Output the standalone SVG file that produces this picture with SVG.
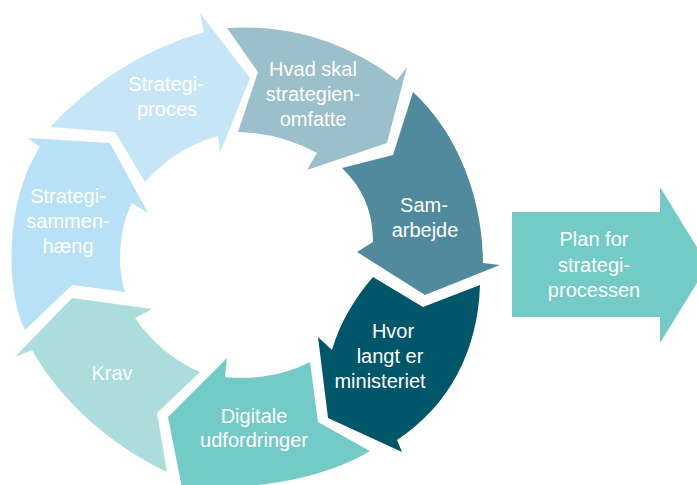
<svg xmlns="http://www.w3.org/2000/svg" width="697" height="485" viewBox="0 0 697 485">
<style>
text{font-family:"Liberation Sans",Arial,sans-serif;font-size:20px;fill:#ffffff;text-anchor:middle}
</style>
<rect width="697" height="485" fill="#ffffff"/>
<g id="connectors"></g>
<g id="strategiproces">
<path d="M204,32 L200,13 L250,78 L220,153 L218,136 Q175,148 145,182 L115,132 L50,127 Q115,58 204,32 Z" fill="#c6e6f7"/>
<text x="166" y="91">Strategi-</text>
<text x="167" y="116">proces</text>
</g>
<g id="hvad-skal">
<path d="M227,28 Q320,22 397,80 L407,67 L387,143 L307,170 L317,153 Q280,133 238,132 L258,72 Z" fill="#9bbfcb"/>
<text x="313" y="76">Hvad skal</text>
<text x="313" y="101">strategien-</text>
<text x="313" y="126">omfatte</text>
</g>
<g id="samarbejde">
<path d="M413,92 C455,130 483,195 483,263 L500,265 L425,295 L357,252 L373,242 C373,215 365,190 342,168 L393,155 Z" fill="#518a9c"/>
<text x="424" y="212">Sam-</text>
<text x="425" y="237">arbejde</text>
</g>
<g id="hvor-langt">
<path d="M373,277 L423,307 L480,285 C478,350 450,405 397,440 L402,452 L328,418 L318,337 L332,350 C340,322 355,298 373,277 Z" fill="#02566a"/>
<text x="393" y="338">Hvor</text>
<text x="390" y="363">langt er</text>
<text x="380" y="388">ministeriet</text>
</g>
<g id="digitale">
<path d="M310,362 L318,422 L370,451 C330,475 270,490 182,488 L168,417 L227,358 L225,377 C255,380 285,375 310,362 Z" fill="#74cac6"/>
<text x="254" y="423">Digitale</text>
<text x="254" y="447">udfordringer</text>
</g>
<g id="krav">
<path d="M200,372 L157,413 L167,472 C110,445 60,400 32,350 L15,357 L72,298 L152,309 L135,318 C150,340 172,360 200,372 Z" fill="#acdcdb"/>
<text x="112" y="380">Krav</text>
</g>
<g id="strategisammenhaeng">
<path d="M125,292 L72,285 L25,330 C5,290 5,200 40,147 L28,138 L110,143 L148,213 L132,203 C120,225 116,265 125,292 Z" fill="#b8e1f7"/>
<text x="68" y="203">Strategi-</text>
<text x="68" y="228">sammen-</text>
<text x="68" y="253">hæng</text>
</g>
<g id="plan">
<path d="M512,212 L660,212 L660,187 L708,265 L660,343 L660,317 L512,317 Z" fill="#74cac6"/>
<text x="594" y="246">Plan for</text>
<text x="594" y="272">strategi-</text>
<text x="594" y="297">processen</text>
</g>
</svg>
